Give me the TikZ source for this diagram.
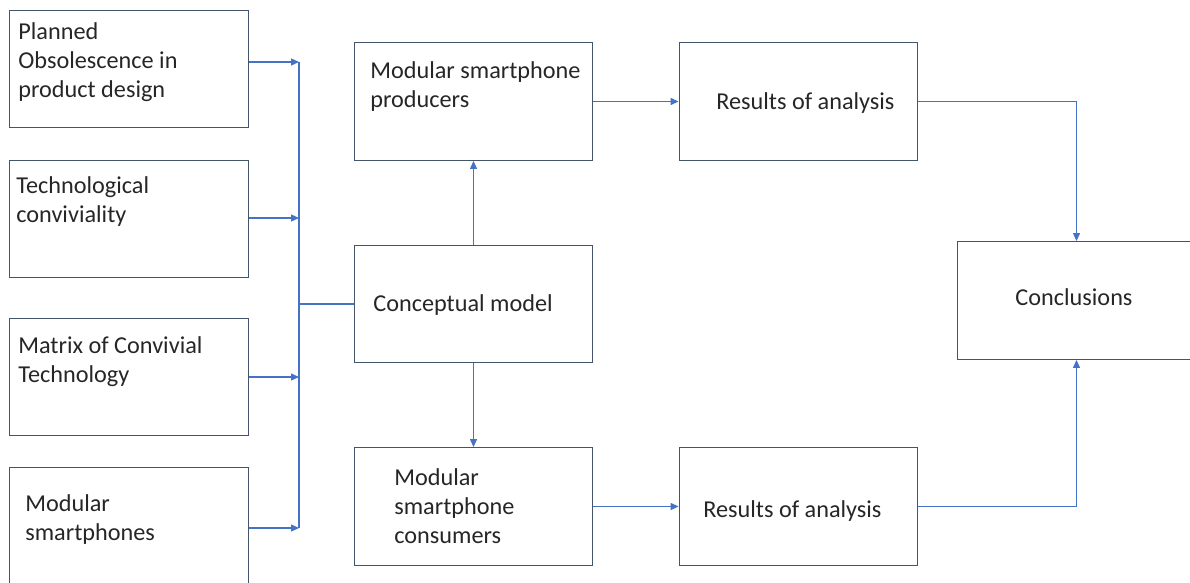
\documentclass[tikz,border=0pt]{standalone}
\usepackage{fontspec}
\setmainfont{Carlito}
\usetikzlibrary{arrows.meta,positioning}
\definecolor{boxline}{HTML}{44546A}
\definecolor{arrowblue}{HTML}{4472C4}
\definecolor{textgray}{HTML}{262626}

\begin{document}
\begin{tikzpicture}[x=0.02cm,y=-0.02cm,>={Triangle[length=1.6mm,width=1.4mm]},
  block/.style={draw=boxline,line width=0.8pt,minimum width=4.77cm,minimum height=2.35cm,inner sep=0pt},
  txt/.style={anchor=west,align=left,inner sep=0pt,text=textgray,font=\fontsize{13.8}{16.4}\selectfont},
  link/.style={color=arrowblue,line width=0.7pt}]

    \useasboundingbox (0,0) rectangle (1190,582);
    \clip (0,0) rectangle (1190,582);

    % The inputs
    \node [block] at (129,69) (plan) {};
    \node [block] at (129,219) (tech) {};
    \node [block] at (129,377) (matrix) {};
    \node [block] at (129,526) (modph) {};
    \node [txt] at (18,62) (plantxt) {Planned\\Obsolescence in\\product design};
    \node [txt] at (16,201.5) (techtxt) {Technological\\conviviality};
    \node [txt] at (18,361.5) (matrixtxt) {Matrix of Convivial\\Technology};
    \node [txt] at (25,519.5) (modphtxt) {Modular\\smartphones};

    % The model
    \node [block] at (473.5,101.5) (prod) {};
    \node [block] at (473.5,304) (concept) {};
    \node [block] at (473.5,506.5) (cons) {};
    \node [txt] at (370,86.5) (prodtxt) {Modular smartphone\\producers};
    \node [txt] at (373,305) (concepttxt) {Conceptual model};
    \node [txt] at (394,506) (constxt) {Modular\\smartphone\\consumers};

    % The analysis
    \node [block] at (798.5,101.5) (res1) {};
    \node [block] at (798.5,506.5) (res2) {};
    \node [block] at (1076.5,300.5) (concl) {};
    \node [txt] at (716,103) (res1txt) {Results of analysis};
    \node [txt] at (703,511) (res2txt) {Results of analysis};
    \node [txt,anchor=center] at (1074,297) (concltxt) {Conclusions};

    % The bus
    \coordinate (bus1) at (299,62);
    \coordinate (bus2) at (299,218);
    \coordinate (bus3) at (299,377);
    \coordinate (bus4) at (299,528);
    \draw[link] (bus1) -- (bus4);
    \draw[link] (concept.west) -- (concept.west -| bus1);

    % Graph edges
    \draw[link,->] (plan.east |- bus1) -- (bus1);
    \draw[link,->] (tech.east |- bus2) -- (bus2);
    \draw[link,->] (matrix.east |- bus3) -- (bus3);
    \draw[link,->] (modph.east |- bus4) -- (bus4);
    \draw[link,->] (concept.north) -- (prod.south);
    \draw[link,->] (concept.south) -- (cons.north);
    \draw[link,->] (prod.east) -- (res1.west);
    \draw[link,->] (cons.east) -- (res2.west);
    \draw[link,->] (res1.east) -| (concl.north);
    \draw[link,->] (res2.east) -| (concl.south);

\end{tikzpicture}
\end{document}
